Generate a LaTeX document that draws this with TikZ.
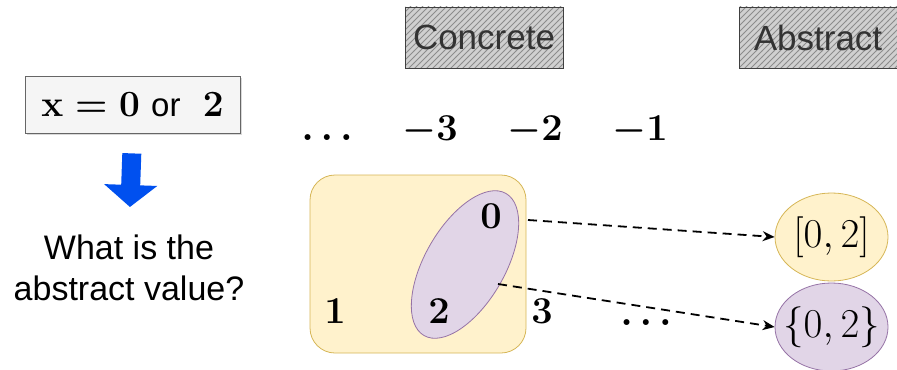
\RequirePackage{fix-cm}
\documentclass[tikz,border=0pt]{standalone}
\usepackage{fontspec}
\setsansfont{Liberation Sans}
\usetikzlibrary{arrows.meta,shapes.geometric,patterns,shadows}
\definecolor{yelfill}{HTML}{FFF2CC}
\definecolor{yeldraw}{HTML}{D6B656}
\definecolor{purfill}{HTML}{E1D5E7}
\definecolor{purdraw}{HTML}{9673A6}
\definecolor{qfill}{HTML}{F5F5F5}
\definecolor{qdraw}{HTML}{666666}
\definecolor{arrblue}{HTML}{0050EF}
\tikzset{
  tag/.style={draw=black!75, preaction={fill=black!8}, pattern=north east lines,
    pattern color=black!45, minimum width=79pt, minimum height=30.5pt, inner sep=0pt,
    drop shadow={shadow xshift=0.6pt, shadow yshift=-0.6pt, opacity=0.25},
    font=\sffamily\fontsize{17.5}{20}\selectfont, text=black!80},
  num/.style={anchor=base, inner sep=0pt, font=\fontsize{19}{23}\selectfont\boldmath},
  absval/.style={ellipse, minimum width=56.5pt, minimum height=44pt, inner sep=0pt,
    label={[font=\fontsize{20.5}{24}\selectfont]center:#1}},
  maparrow/.style={dashed, dash pattern=on 4.5pt off 3pt, line width=0.9pt,
    -{Stealth[length=6pt,width=5pt]}}
}
\begin{document}
\begin{tikzpicture}[x=0.5pt, y=-0.5pt]
\useasboundingbox (0,0) rectangle (897,369);
% question on the left
\node[draw=qdraw, fill=qfill, minimum width=107.5pt, minimum height=28.5pt,
  drop shadow={shadow xshift=0.8pt, shadow yshift=-0.8pt, opacity=0.3},
  font=\fontsize{18.5}{22}\selectfont\boldmath] (q) at (132.5,104.5)
  {$\mathbf{x}=0$~{\sffamily\fontsize{16.5}{20}\selectfont or}~~$2$};
\node[anchor=north, inner sep=0pt, align=center, font=\sffamily\fontsize{17}{20.5}\selectfont]
  (ask) at (129,234) {What is the\\abstract value?};
\draw[arrblue, line width=9.5pt, -{Triangle[length=11pt,width=26pt]},
  shorten <=10pt, shorten >=13.5pt] (q.south) -- (ask.north);
% headers
\node[tag] (conc-h) at (484,37.5) {Concrete};
\node[tag] (abs-h) at (818,37.5) {Abstract};
% number line
\node[num] (dl) at (327,140) {$\dots$};
\foreach \n/\x in {3/430,2/535,1/640}
  \node[num] (neg\n) at (\x,140) {$-\n$};
% concrete sets
\node[draw=yeldraw, fill=yelfill, rounded corners=12.5pt, minimum width=108pt,
  minimum height=89pt] (conc) at (418,264) {};
\node[draw=purdraw, fill=purfill, ellipse, rotate=60, minimum width=82pt,
  minimum height=40pt, inner sep=0pt] (pur) at (465,264.5) {};
\node[num] (c0) at (491,228) {$0$};
\node[num] (c2) at (439,323) {$2$};
\node[num] (c1) at (335,323) {$1$};
\node[num] (c3) at (542,323) {$3$};
\node[num] (dr) at (646,325) {$\dots$};
% abstract values
\node[absval={$[0,2]$}, draw=yeldraw, fill=yelfill] (ivl) at (831.5,237) {};
\node[absval={$\{0,2\}$}, draw=purdraw, fill=purfill] (set) at (831.5,327) {};
\coordinate (s1) at (528,220);
\coordinate (s2) at (498,284);
\draw[maparrow] (s1) -- (ivl.west);
\draw[maparrow] (s2) -- (set.west);
\end{tikzpicture}
\end{document}
